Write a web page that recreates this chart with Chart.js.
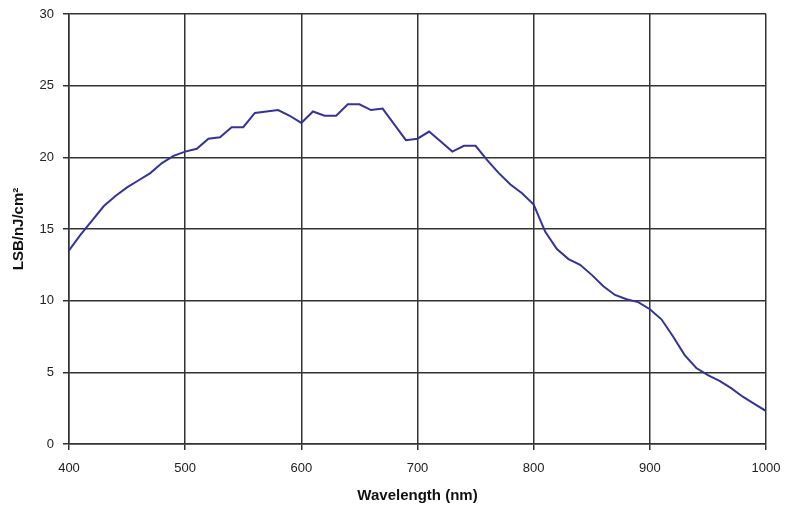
<!DOCTYPE html>
<html lang="en">
<head>
  <meta charset="UTF-8">
  <title>LSB/nJ/cm² vs Wavelength</title>
  <script src="https://cdn.jsdelivr.net/npm/chart.js"></script>
  <style>
    body { margin: 0; background: #fff; }
    canvas { display: block; }
  </style>
</head>
<body>
  <canvas id="grafico" width="786" height="510"></canvas>

  <script>
    // wavelength (nm), 10 nm steps
    const wavelength = [
      400, 410, 420, 430, 440, 450, 460, 470, 480, 490,
      500, 510, 520, 530, 540, 550, 560, 570, 580, 590,
      600, 610, 620, 630, 640, 650, 660, 670, 680, 690,
      700, 710, 720, 730, 740, 750, 760, 770, 780, 790,
      800, 810, 820, 830, 840, 850, 860, 870, 880, 890,
      900, 910, 920, 930, 940, 950, 960, 970, 980, 990, 1000
    ];
    // response, LSB/nJ/cm²
    const response = [
      13.5, 14.6, 15.6, 16.6, 17.3, 17.9, 18.4, 18.9, 19.6, 20.1,
      20.4, 20.6, 21.3, 21.4, 22.1, 22.1, 23.1, 23.2, 23.3, 22.9,
      22.4, 23.2, 22.9, 22.9, 23.7, 23.7, 23.3, 23.4, 22.3, 21.2,
      21.3, 21.8, 21.1, 20.4, 20.8, 20.8, 19.8, 18.9, 18.1, 17.5,
      16.7, 14.8, 13.6, 12.9, 12.5, 11.8, 11.0, 10.4, 10.1, 9.9,
      9.4, 8.7, 7.5, 6.2, 5.3, 4.8, 4.4, 3.9, 3.3, 2.8, 2.3
    ];

    const fonte = { family: "'Liberation Sans', Arial, sans-serif", size: 13 };
    const fonteTitulo = { family: fonte.family, size: 15, weight: 'bold' };
    const grade = { color: '#333', lineWidth: 1.5, tickLength: 6, tickColor: '#333' };

    const grafico = new Chart(document.getElementById('grafico').getContext('2d'), {
      type: 'line',
      data: {
        datasets: [{
          data: wavelength.map((w, i) => ({ x: w, y: response[i] })),
          borderColor: '#333399',
          borderWidth: 2,
          pointRadius: 0,
          fill: false,
          tension: 0
        }]
      },
      options: {
        responsive: false,
        animation: false,
        layout: { padding: { left: 0, top: 14, right: 20, bottom: 0 } },
        plugins: { legend: { display: false }, tooltip: { enabled: false } },
        scales: {
          x: {
            type: 'linear', min: 400, max: 1000,
            border: { color: '#333', width: 1.5 },
            grid: grade,
            ticks: { stepSize: 100, color: '#222', font: fonte, padding: 11, maxRotation: 0,
                     callback: v => String(v) },
            title: { display: true, text: 'Wavelength (nm)', color: '#111',
                     font: fonteTitulo, padding: { top: 0, bottom: 5 } },
            afterFit: s => { s.height = 66; s.paddingLeft = 0; s.paddingRight = 0; }
          },
          y: {
            min: 0, max: 30,
            border: { color: '#333', width: 1.5 },
            grid: grade,
            ticks: { stepSize: 5, color: '#222', font: fonte, padding: 9 },
            title: { display: true, text: 'LSB/nJ/cm²', color: '#111',
                     font: fonteTitulo, padding: { top: 10, bottom: 0 } },
            afterFit: s => { s.width = 69; s.paddingTop = 0; s.paddingBottom = 0; }
          }
        }
      }
    });
  </script>
</body>
</html>
